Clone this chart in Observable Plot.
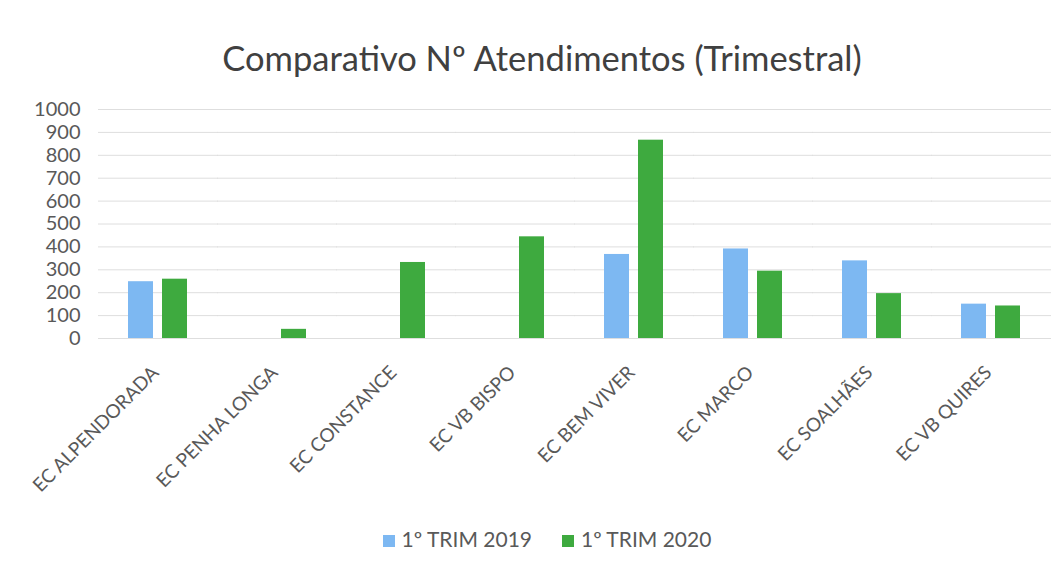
<!DOCTYPE html>
<html>
<head>
<meta charset="utf-8">
<script src="https://cdn.jsdelivr.net/npm/d3@7"></script>
<script src="https://cdn.jsdelivr.net/npm/@observablehq/plot@0.6"></script>
<style>
  html, body { margin: 0; padding: 0; background: #fff; }
  body { width: 1064px; height: 571px; overflow: hidden; font-family: Lato, "Open Sans", sans-serif; color: #595959; }
  #title { height: 90px; box-sizing: border-box; padding-top: 40px; line-height: 36px; font-size: 34.5px; text-align: center; color: #404040; padding-left: 20px; }
  #chart svg { display: block; }
  #legend { display: flex; justify-content: center; align-items: center; gap: 30px; font-size: 21px; color: #595959; margin-top: 16px; padding-left: 30px; }
  #legend span.sw { display: inline-block; width: 12px; height: 12px; margin-right: 7px; vertical-align: middle; position: relative; top: -1px; }
</style>
</head>
<body>
<div id="title">Comparativo Nº Atendimentos (Trimestral)</div>
<div id="chart"></div>
<div id="legend"></div>
<script>
const categories = ["EC ALPENDORADA", "EC PENHA LONGA", "EC CONSTANCE", "EC VB BISPO", "EC BEM VIVER", "EC MARCO", "EC SOALHÃES", "EC VB QUIRES"];
const seriesNames = ["1º TRIM 2019", "1º TRIM 2020"];
const values2019 = [248, 0, 0, 0, 367, 391, 339, 150];
const values2020 = [259, 40, 332, 444, 866, 294, 196, 142];
const yTicks = [0, 100, 200, 300, 400, 500, 600, 700, 800, 900, 1000];
const colors = ["#7db8f2", "#3eaa3f"];

const data = [];
categories.forEach((c, i) => {
  data.push({cat: c, series: seriesNames[0], value: values2019[i]});
  data.push({cat: c, series: seriesNames[1], value: values2020[i]});
});

const chart = Plot.plot({
  width: 1064,
  height: 420,
  marginTop: 19,
  marginBottom: 172,
  marginLeft: 98,
  marginRight: 14,
  style: {fontFamily: "Lato, 'Open Sans', sans-serif", color: "#595959"},
  fx: {domain: categories, paddingInner: 0.5, paddingOuter: 0.25, label: null},
  x: {domain: seriesNames, paddingInner: 0.26, paddingOuter: 0, axis: null},
  y: {domain: [0, 1000], label: null},
  color: {domain: seriesNames, range: colors},
  marks: [
    Plot.ruleY(yTicks, {stroke: "#dedede", strokeWidth: 1, insetLeft: -30, insetRight: -30}),
    Plot.axisY(yTicks, {tickSize: 0, tickPadding: 48, fontSize: 20, label: null, tickFormat: d => String(d)}),
    Plot.axisFx({anchor: "bottom", tickRotate: -45, tickSize: 0, tickPadding: 8, fontSize: 19, lineWidth: Infinity, textOverflow: null, label: null, dx: -3, dy: 23}),
    Plot.barY(data.filter(d => d.value > 0), {fx: "cat", x: "series", y: "value", fill: "series"})
  ]
});
document.getElementById("chart").appendChild(chart);

const legend = document.getElementById("legend");
seriesNames.forEach((s, i) => {
  const item = document.createElement("span");
  item.innerHTML = `<span class="sw" style="background:${colors[i]}"></span>${s}`;
  legend.appendChild(item);
});
</script>
</body>
</html>
